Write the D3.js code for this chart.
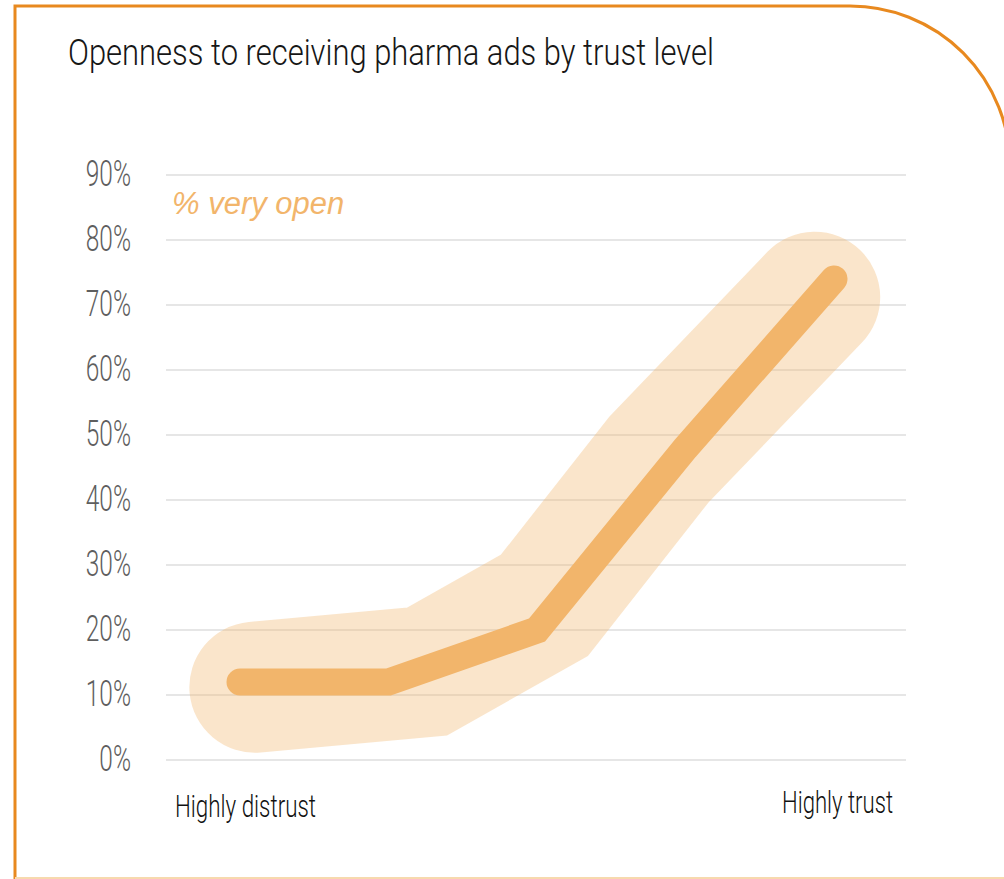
<!DOCTYPE html>
<html>
<head>
<meta charset="utf-8">
<script src="https://cdn.jsdelivr.net/npm/d3@7"></script>
<style>
  body { margin: 0; background: #fff; }
  svg { display: block; }
</style>
</head>
<body>
<svg id="chart"></svg>
<script>
var width = 1004;
var height = 879;

// data
var title = "Openness to receiving pharma ads by trust level";
var seriesName = "% very open";
var xLabels = ["Highly distrust", "Highly trust"];
var steps = [0, 1, 2, 3, 4];
var veryOpen = [0.12, 0.12, 0.20, 0.48, 0.74];
// the soft band behind the line (its own path, position along the trust scale)
var bandStep = [0.10, 1.26, 2.05, 2.82, 3.87];
var bandValue = [0.112, 0.136, 0.238, 0.462, 0.712];
var yTicks = [0, 0.1, 0.2, 0.3, 0.4, 0.5, 0.6, 0.7, 0.8, 0.9];

var orange = "#F2B56B";

var svg = d3.select("#chart")
    .attr("width", width)
    .attr("height", height);

var x = d3.scaleLinear().domain([0, 4]).range([240, 834]);
var y = d3.scaleLinear().domain([0, 0.9]).range([760, 175]);

// frame
svg.append("path")
    .attr("d", "M15,879 V6 H850 A160,160 0 0 1 1010,166 V879")
    .attr("fill", "none")
    .attr("stroke", "#E8891F")
    .attr("stroke-width", 3);
svg.append("line")
    .attr("x1", 15).attr("x2", 1004)
    .attr("y1", 878).attr("y2", 878)
    .attr("stroke", "#F7D9AE")
    .attr("stroke-width", 2);

// title
svg.append("text")
    .attr("x", 68)
    .attr("y", 65)
    .attr("textLength", 646)
    .attr("lengthAdjust", "spacingAndGlyphs")
    .style("font-family", "Roboto, 'Liberation Sans', sans-serif")
    .style("font-weight", 300)
    .style("font-size", "36px")
    .attr("fill", "#161616")
    .text(title);

// gridlines
svg.append("g")
    .selectAll("line")
    .data(yTicks)
    .enter()
    .append("line")
        .attr("x1", 166)
        .attr("x2", 906)
        .attr("y1", d => y(d))
        .attr("y2", d => y(d))
        .attr("stroke", "#e6e6e6")
        .attr("stroke-width", 2);

// y tick labels, squeezed to look condensed
var sx = 0.68;
svg.append("g")
    .attr("transform", "scale(" + sx + ",1)")
    .selectAll("text")
    .data(yTicks)
    .enter()
    .append("text")
        .attr("x", 131 / sx)
        .attr("y", d => y(d) + 11)
        .attr("text-anchor", "end")
        .style("font-family", "Roboto, 'Liberation Sans', sans-serif")
        .style("font-weight", 300)
        .style("font-size", "36px")
        .attr("fill", "#5e5e5e")
        .text(d => Math.round(d * 100) + "%");

// band
var band = d3.line()
    .x((d, i) => x(bandStep[i]))
    .y(d => y(d));

svg.append("path")
    .datum(bandValue)
    .attr("d", band)
    .attr("fill", "none")
    .attr("stroke", orange)
    .attr("stroke-opacity", 0.35)
    .attr("stroke-width", 131)
    .attr("stroke-linecap", "round")
    .attr("stroke-linejoin", "miter")
    .attr("stroke-miterlimit", 10);

// main line
var line = d3.line()
    .x((d, i) => x(steps[i]))
    .y(d => y(d));

svg.append("path")
    .datum(veryOpen)
    .attr("d", line)
    .attr("fill", "none")
    .attr("stroke", orange)
    .attr("stroke-width", 27)
    .attr("stroke-linecap", "round")
    .attr("stroke-linejoin", "miter");

// series label
svg.append("text")
    .attr("x", 172)
    .attr("y", 214)
    .style("font-family", "'Liberation Sans', Arial, sans-serif")
    .style("font-style", "italic")
    .style("font-size", "31px")
    .attr("fill", orange)
    .text(seriesName);

// x end labels
svg.append("text")
    .attr("x", 175)
    .attr("y", 817)
    .attr("textLength", 141)
    .attr("lengthAdjust", "spacingAndGlyphs")
    .style("font-family", "Roboto, 'Liberation Sans', sans-serif")
    .style("font-weight", 300)
    .style("font-size", "32px")
    .attr("fill", "#111")
    .text(xLabels[0]);

svg.append("text")
    .attr("x", 782)
    .attr("y", 813)
    .attr("textLength", 111)
    .attr("lengthAdjust", "spacingAndGlyphs")
    .style("font-family", "Roboto, 'Liberation Sans', sans-serif")
    .style("font-weight", 300)
    .style("font-size", "32px")
    .attr("fill", "#111")
    .text(xLabels[1]);
</script>
</body>
</html>
